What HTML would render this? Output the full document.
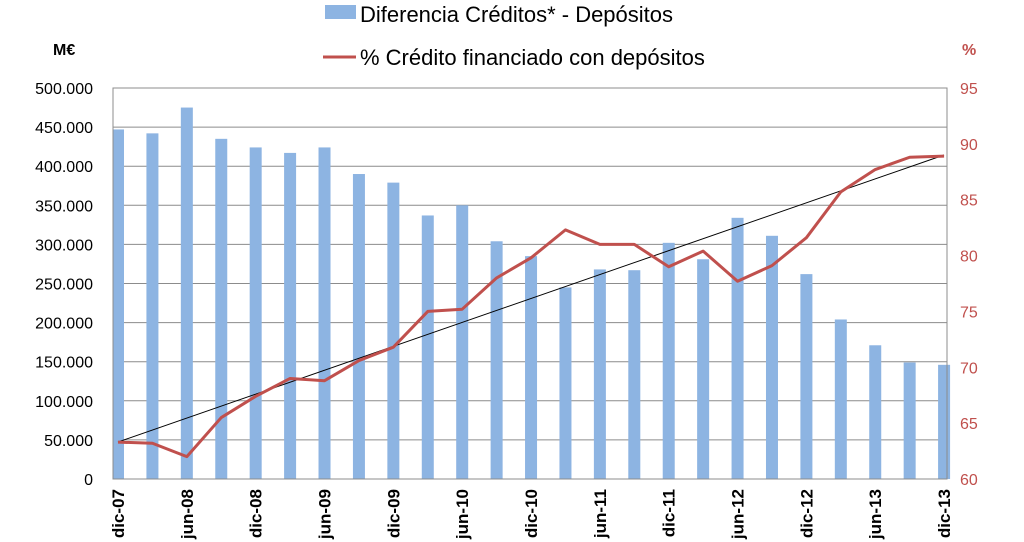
<!DOCTYPE html>
<html><head><meta charset="utf-8"><style>
html,body{margin:0;padding:0;background:#fff;}
svg{display:block;font-family:"Liberation Sans",Arial,sans-serif;}
</style></head><body>
<svg width="1024" height="542" viewBox="0 0 1024 542" xmlns="http://www.w3.org/2000/svg">
<g id="grid" stroke="#8c8c8c" stroke-width="1"></g>
<g id="bars" fill="#8db4e2"></g>
<rect x="113" y="88" width="834" height="391" fill="none" stroke="#8c8c8c"/>
<line x1="118" y1="442" x2="944" y2="155" stroke="#000" stroke-width="1"/>
<polyline id="ln" fill="none" stroke="#c0504d" stroke-width="3" stroke-linejoin="round"/>
<g id="yl" font-size="16" fill="#000" text-anchor="end"></g>
<g id="yr" font-size="16" fill="#c0504d" text-anchor="start"></g>
<g id="xl" font-size="17" font-weight="bold" fill="#000"></g>
<text x="53" y="55" font-size="16" font-weight="bold">M€</text>
<text x="962" y="55" font-size="16" font-weight="bold" fill="#c0504d">%</text>
<rect x="325" y="5" width="31" height="14" fill="#8db4e2"/>
<text x="360" y="22" font-size="22">Diferencia Créditos* - Depósitos</text>
<line x1="323" y1="57" x2="356" y2="57" stroke="#c0504d" stroke-width="3"/>
<text x="360" y="65" font-size="22">% Crédito financiado con depósitos</text>
<script>
var ns="http://www.w3.org/2000/svg";
function el(p,t,a,txt){var e=document.createElementNS(ns,t);for(var k in a)e.setAttribute(k,a[k]);if(txt!=null)e.textContent=txt;document.getElementById(p).appendChild(e);}
var y0=479,ppu=391/500000;
for(var i=1;i<=10;i++){var y=y0-i*50000*ppu;el("grid","line",{x1:113,x2:947,y1:y,y2:y});}
for(var i=0;i<=10;i++){var y=y0-i*50000*ppu;el("yl","text",{x:93,y:y+6},i==0?"0":(i*50)+".000");}
for(var i=0;i<=7;i++){var y=y0-i*391/7;el("yr","text",{x:960,y:y+6},60+i*5);}
var b=[447,442,475,435,424,417,424,390,379,337,350,304,285,245,268,267,302,281,334,311,262,204,171,149,146];
var l=[63.3,63.2,62,65.5,67.4,69,68.8,70.6,71.8,75,75.2,78,79.8,82.3,81,81,79,80.4,77.7,79.1,81.6,85.7,87.7,88.8,88.9];
var pts=[];
var labs=["dic-07","jun-08","dic-08","jun-09","dic-09","jun-10","dic-10","jun-11","dic-11","jun-12","dic-12","jun-13","dic-13"];
for(var i=0;i<25;i++){var cx=118+i*34.42;var h=b[i]*1000*ppu;var x=cx-6;var w=12;if(x<113){w-=113-x;x=113;}
el("bars","rect",{x:x,y:y0-h,width:w,height:h});
pts.push(cx+","+(y0-(l[i]-60)*391/35));
if(i%2==0){el("xl","text",{transform:"translate("+(cx+6)+",489) rotate(-90)","text-anchor":"end"},labs[i/2]);}}
document.getElementById("ln").setAttribute("points",pts.join(" "));
</script>
</svg>
</body></html>
